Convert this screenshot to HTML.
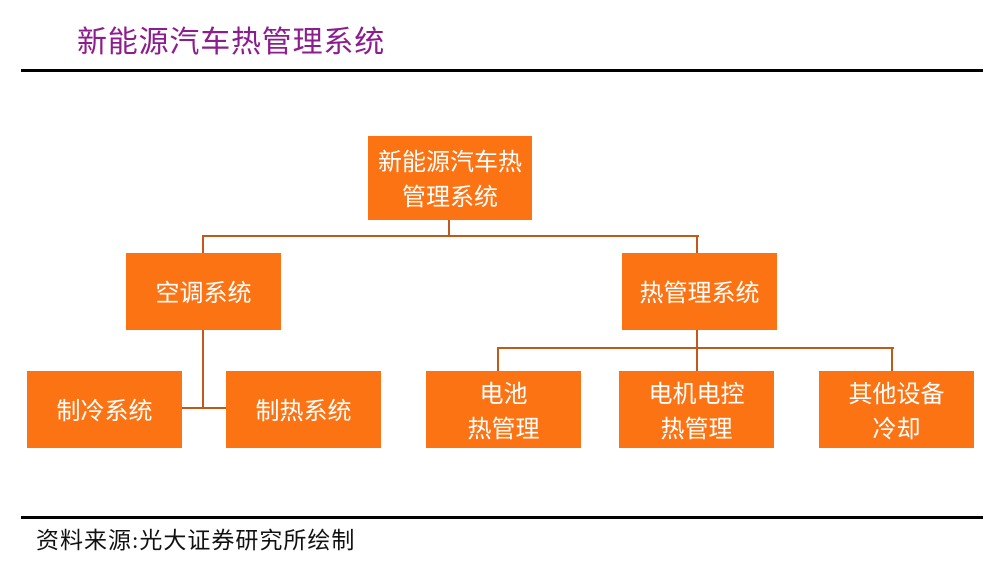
<!DOCTYPE html>
<html><head><meta charset="utf-8"><style>
html,body{margin:0;padding:0;background:#fff;}
body{width:1000px;height:583px;position:relative;overflow:hidden;}
.title{position:absolute;left:77px;top:23px;font-family:"Liberation Serif","Noto Sans CJK SC",serif;font-size:30px;letter-spacing:0.8px;line-height:40px;color:#8C1D8E;white-space:nowrap;}
.hr{position:absolute;left:21px;width:962px;height:3px;background:#000;}
.box{position:absolute;background:#FC7314;color:#fff;font-family:"Liberation Sans","Noto Sans CJK SC",sans-serif;font-size:24px;line-height:35px;display:flex;align-items:center;justify-content:center;text-align:center;white-space:nowrap;box-sizing:border-box;padding-top:4px;}
.l{position:absolute;background:#C05A1C;}
.foot{position:absolute;left:36px;top:525px;font-family:"Liberation Serif","Noto Sans CJK SC",serif;font-size:23px;letter-spacing:1px;line-height:32px;color:#111;white-space:nowrap;}
</style></head><body>
<div class="title">新能源汽车热管理系统</div>
<div class="hr" style="top:69px"></div>

<!-- connectors -->
<div class="l" style="left:448px;top:219px;width:2px;height:18px"></div>
<div class="l" style="left:202px;top:235px;width:497px;height:2px"></div>
<div class="l" style="left:202px;top:235px;width:2px;height:19px"></div>
<div class="l" style="left:696px;top:235px;width:2px;height:19px"></div>
<div class="l" style="left:202px;top:329px;width:2px;height:80px"></div>
<div class="l" style="left:181px;top:407px;width:46px;height:2px"></div>
<div class="l" style="left:696px;top:329px;width:2px;height:43px"></div>
<div class="l" style="left:497px;top:347px;width:397px;height:2px"></div>
<div class="l" style="left:497px;top:347px;width:2px;height:25px"></div>
<div class="l" style="left:891px;top:347px;width:2px;height:25px"></div>

<!-- boxes -->
<div class="box" style="left:368px;top:136px;width:164px;height:84px">新能源汽车热<br>管理系统</div>
<div class="box" style="left:126px;top:253px;width:155px;height:77px">空调系统</div>
<div class="box" style="left:622px;top:253px;width:155px;height:77px">热管理系统</div>
<div class="box" style="left:27px;top:371px;width:155px;height:77px">制冷系统</div>
<div class="box" style="left:226px;top:371px;width:155px;height:77px">制热系统</div>
<div class="box" style="left:426px;top:371px;width:155px;height:77px">电池<br>热管理</div>
<div class="box" style="left:619px;top:371px;width:155px;height:77px">电机电控<br>热管理</div>
<div class="box" style="left:819px;top:371px;width:155px;height:77px">其他设备<br>冷却</div>

<div class="hr" style="top:516px"></div>
<div class="foot">资料来源:光大证券研究所绘制</div>
</body></html>
